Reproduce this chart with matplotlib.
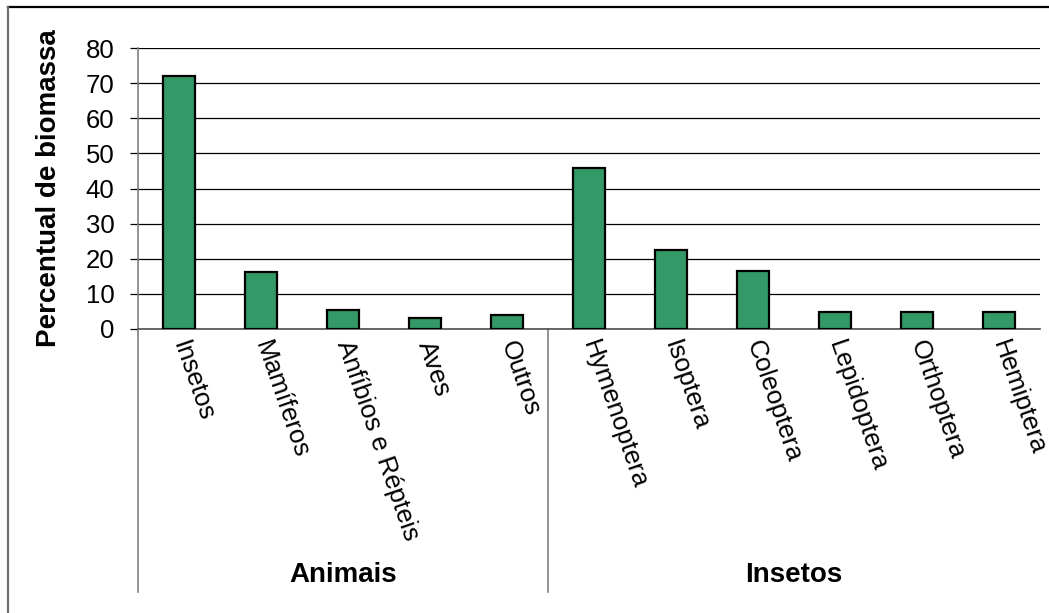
import matplotlib
matplotlib.use("Agg")
import matplotlib.pyplot as plt
from matplotlib.lines import Line2D
from matplotlib.transforms import blended_transform_factory

plt.rcParams['font.family'] = ['Liberation Sans', 'DejaVu Sans']

# Biomass share by group
categories = ["Insetos", "Mamíferos", "Anfíbios e Répteis", "Aves", "Outros",
              "Hymenoptera", "Isoptera", "Coleoptera", "Lepidoptera",
              "Orthoptera", "Hemiptera"]
values = [72, 16.3, 5.4, 3.0, 3.9, 45.8, 22.5, 16.5, 4.8, 4.8, 4.8]
groups = ["Animais", "Insetos"]
group_sizes = [5, 6]
yticks = [0, 10, 20, 30, 40, 50, 60, 70, 80]
ylabel = "Percentual de biomassa"

W, H = 1049, 613
fig = plt.figure(figsize=(W / 100, H / 100), dpi=100)
ax = fig.add_axes([138 / W, 1 - 329 / H, (1040 - 138) / W, (329 - 48) / H])

x = list(range(len(categories)))
ax.bar(x, values, width=0.39, color="#339966", edgecolor="black",
       linewidth=1.6, zorder=3)

ax.set_xlim(-0.5, len(categories) - 0.5)
ax.set_ylim(0, 80)
ax.set_yticks(yticks)
ax.set_yticklabels([str(t) for t in yticks], fontsize=18.5)
ax.yaxis.grid(True, color="black", linewidth=0.9, zorder=0)
ax.tick_params(axis="y", direction="out", length=6, width=0.9,
               color="black", pad=11)

ax.set_xticks(x)
ax.set_xticklabels(categories, rotation=-71, ha="left", va="center",
                   rotation_mode="anchor", fontsize=18.6)
ax.tick_params(axis="x", length=0, pad=9)

for side in ("top", "right"):
    ax.spines[side].set_visible(False)
ax.spines["left"].set_color("#808080")
ax.spines["left"].set_linewidth(1.2)
ax.spines["bottom"].set_color("#505050")
ax.spines["bottom"].set_linewidth(1.2)

# Group separators and group labels under the category axis
trans = blended_transform_factory(ax.transData, ax.transAxes)
y_low = -(592 - 329) / (329 - 48)
start = 0
bounds = [-0.5]
for g, n in zip(groups, group_sizes):
    end = start + n
    bounds.append(end - 0.5)
    ax.text((start + end - 1) / 2, -(575 - 329) / (329 - 48), g,
            transform=trans, ha="center", va="center",
            fontsize=20, fontweight="bold")
    start = end
for b in bounds[:-1]:
    ax.add_line(Line2D([b, b], [0, y_low], transform=trans, color="#808080",
                       linewidth=1.2, clip_on=False))

fig.text(49 / W, 1 - 188 / H, ylabel, rotation=90, ha="center", va="center",
         fontsize=20, fontweight="bold")

# Frame edges
fig.add_artist(Line2D([8 / W, 1], [1 - 7 / H, 1 - 7 / H],
                      transform=fig.transFigure, color="black", linewidth=1.6))
fig.add_artist(Line2D([8 / W, 8 / W], [0, 1 - 7 / H],
                      transform=fig.transFigure, color="#707070", linewidth=1.6))

fig.savefig("out.png", dpi=100, facecolor="white")
